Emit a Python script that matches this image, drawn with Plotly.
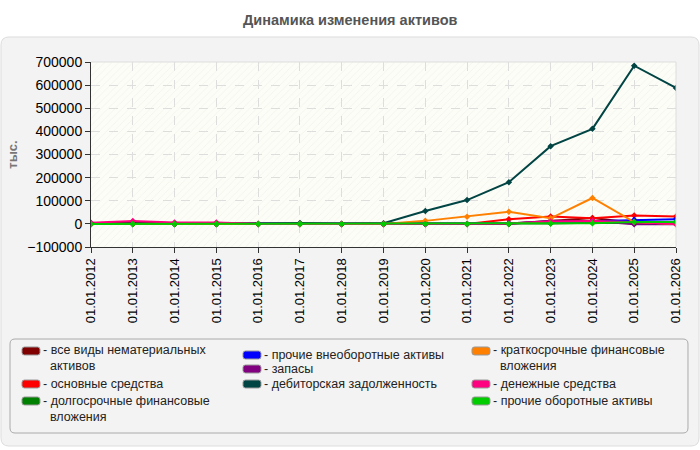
import plotly.graph_objects as go

dates = ["01.01.2012", "01.01.2013", "01.01.2014", "01.01.2015", "01.01.2016",
         "01.01.2017", "01.01.2018", "01.01.2019", "01.01.2020", "01.01.2021",
         "01.01.2022", "01.01.2023", "01.01.2024", "01.01.2025", "01.01.2026"]

names = [["все виды нематериальных", "активов"], ["основные средства"],
         ["долгосрочные финансовые", "вложения"], ["прочие внеоборотные активы"],
         ["запасы"], ["дебиторская задолженность"],
         ["краткосрочные финансовые", "вложения"], ["денежные средства"],
         ["прочие оборотные активы"]]

intangible = [0, 0, 0, 0, 0, 0, 0, 0, 0, 0, 2000, 12000, 25000, 5000, 5000]
fixed_assets = [3000, 8000, 3000, 3000, 0, 0, 0, 0, 0, 0, 20000, 32000, 24000, 36000, 32000]
lt_investments = [0, 0, 0, 0, 0, 0, 0, 0, 0, 0, 0, 2000, 5000, 2000, 2000]
other_noncurrent = [0, 0, 0, 0, 0, 0, 0, 0, 0, 0, 3000, 8000, 12000, 18000, 20000]
inventory = [0, 0, 0, 0, 0, 0, 0, 0, 0, 0, 0, 14000, 12000, -2000, -2000]
receivables = [0, 3000, 0, 0, 0, 4000, 0, 3000, 56000, 103000, 180000, 336000, 411000, 684000, 588000]
st_investments = [0, 0, 0, 0, 0, 0, 0, 0, 13000, 31000, 52000, 24000, 112000, 8000, 0]
cash = [5000, 12000, 6000, 6000, 0, 0, 0, 0, 0, 0, 2000, 10000, 12000, 8000, 0]
other_current = [0, 0, 0, 0, 0, 0, 0, 0, 0, 0, 0, 2000, 3000, 8000, 8000]

series = [intangible, fixed_assets, lt_investments, other_noncurrent, inventory,
          receivables, st_investments, cash, other_current]
colors = ["#800000", "#ff0000", "#008000", "#0000ff", "#800080",
          "#004444", "#ff8000", "#ff0080", "#00cc00"]

fig = go.Figure()

# hatch background
fig.add_trace(go.Bar(x=[dates[7]], y=[800000], base=[-100000], width=[14],
                     marker=dict(color="rgba(0,0,0,0)", line=dict(width=0),
                                 pattern=dict(shape="/", fgcolor="#e6e6de", size=5, solidity=0.15)),
                     hoverinfo="skip", showlegend=False))

for name, vals, c in zip(names, series, colors):
    fig.add_trace(go.Scatter(x=dates, y=vals, mode="lines+markers", name=" ".join(name),
                             line=dict(color=c, width=2),
                             marker=dict(symbol="diamond", size=5, color=c),
                             showlegend=False))

font = "Liberation Sans, Arial, sans-serif"
fig.update_layout(
    width=700, height=450,
    margin=dict(l=91, r=24, t=62, b=203),
    paper_bgcolor="white",
    plot_bgcolor="#fdfdf8",
    font=dict(family=font, size=13, color="#000"),
    bargap=0,
    xaxis=dict(type="category", categoryorder="array", categoryarray=dates,
               range=[0, 14], tickangle=-90, showgrid=True,
               gridcolor="#dddddd", griddash="dash", gridwidth=1,
               showline=True, linecolor="#333", linewidth=1, ticks="outside",
               ticklen=5, tickcolor="#333", tickfont=dict(size=13)),
    yaxis=dict(range=[-100000, 700000], dtick=100000, showgrid=True,
               gridcolor="#dddddd", griddash="dash", gridwidth=1, zeroline=False,
               showline=True, linecolor="#333", linewidth=1, ticks="outside",
               ticklen=5, tickcolor="#333", tickformat="d", tickfont=dict(size=14),
               title=dict(text="<b>тыс.</b>", font=dict(size=13, color="#777"), standoff=6)),
)

def px2paper(x, y):
    return ((x - 91) / 585.0, (450 - 203 - y) / 185.0)

def path_px(x0, y0, x1, y1, r):
    def P(x, y):
        px, py = px2paper(x, y)
        return f"{px:.5f},{py:.5f}"
    return (f"M {P(x0+r,y0)} L {P(x1-r,y0)} Q {P(x1,y0)} {P(x1,y0+r)} L {P(x1,y1-r)} "
            f"Q {P(x1,y1)} {P(x1-r,y1)} L {P(x0+r,y1)} Q {P(x0,y1)} {P(x0,y1-r)} "
            f"L {P(x0,y0+r)} Q {P(x0,y0)} {P(x0+r,y0)} Z")

shapes = [
    dict(type="path", xref="paper", yref="paper", layer="below",
         path=path_px(1, 37, 699, 446, 8), fillcolor="#f3f3f3",
         line=dict(color="#dddddd", width=1)),
    dict(type="path", xref="paper", yref="paper", layer="below",
         path=path_px(10, 339, 688, 433, 5), fillcolor="#f3f3f3",
         line=dict(color="#aaaaaa", width=1)),
    dict(type="rect", xref="paper", yref="paper", x0=0, y0=0, x1=1, y1=1,
         layer="below", fillcolor="#fdfdf8", line=dict(width=0)),
    dict(type="line", xref="paper", yref="paper", x0=0, y0=1, x1=1, y1=1,
         line=dict(color="#dddddd", width=1)),
    dict(type="line", xref="paper", yref="paper", x0=1, y0=0, x1=1, y1=1,
         line=dict(color="#dddddd", width=1)),
]

tx, ty = px2paper(350, 20)
annotations = [
    dict(text="<b>Динамика изменения активов</b>", x=tx, y=ty,
         xref="paper", yref="paper", showarrow=False, xanchor="center", yanchor="middle",
         font=dict(size=14.5, color="#555555", family=font)),
]

# manual legend: column-major
cols_x = [22, 243, 472]
rows_y = [[351, 384, 401], [355, 369, 384], [351, 384, 401]]
for i, (name, c) in enumerate(zip(names, colors)):
    col, row = divmod(i, 3)
    sx = cols_x[col]
    sy = rows_y[col][row]
    shapes.append(dict(type="path", xref="paper", yref="paper",
                       path=path_px(sx, sy - 4, sx + 18, sy + 4, 2.5),
                       fillcolor=c, line=dict(color="#999999", width=1)))
    txt = "- " + name[0]
    if len(name) > 1:
        txt += "<br>\u00a0\u00a0" + name[1]
    ax, ay = px2paper(sx + 20, sy - 8.5)
    annotations.append(dict(text=txt, x=ax, y=ay, xref="paper", yref="paper",
                            showarrow=False, xanchor="left", yanchor="top",
                            align="left", borderpad=0,
                            font=dict(size=12.5, color="#222222", family=font)))

fig.update_layout(shapes=shapes, annotations=annotations)
fig.write_html("out.html")
